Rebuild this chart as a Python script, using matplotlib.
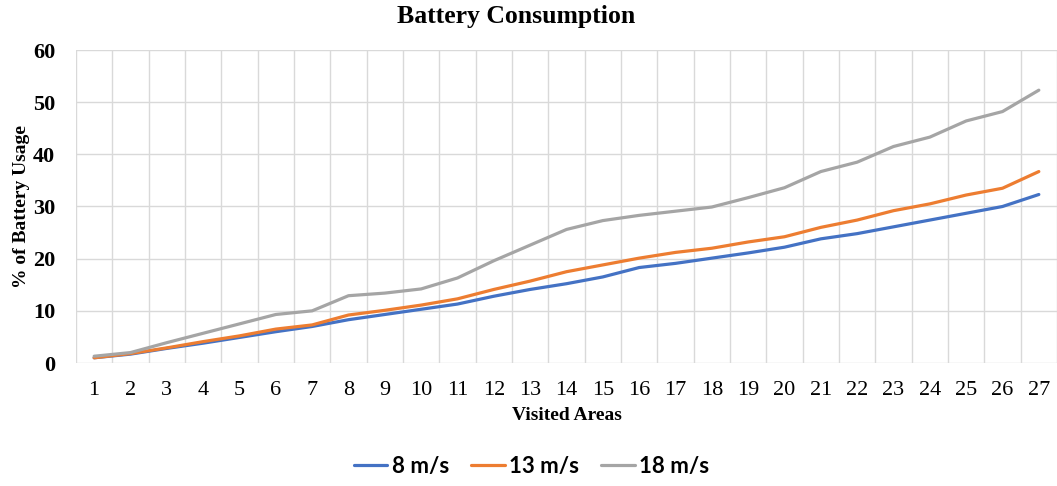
import matplotlib
matplotlib.use("Agg")
import matplotlib.pyplot as plt
import numpy as np

areas = list(range(1, 28))
s8 = [1.0, 1.7, 2.8, 3.8, 4.9, 6.0, 7.0, 8.3, 9.3, 10.3, 11.3, 12.8, 14.1, 15.2, 16.5,
      18.3, 19.1, 20.1, 21.1, 22.2, 23.8, 24.8, 26.1, 27.4, 28.7, 30.0, 32.3]
s13 = [1.0, 1.8, 2.9, 4.1, 5.2, 6.5, 7.3, 9.2, 10.1, 11.1, 12.3, 14.1, 15.7, 17.5, 18.8,
       20.1, 21.2, 22.0, 23.2, 24.2, 26.0, 27.4, 29.2, 30.5, 32.2, 33.5, 36.7]
s18 = [1.3, 2.0, 3.9, 5.7, 7.5, 9.3, 10.0, 12.9, 13.4, 14.2, 16.3, 19.6, 22.6, 25.6, 27.3,
       28.3, 29.1, 29.9, 31.7, 33.6, 36.7, 38.5, 41.5, 43.3, 46.4, 48.2, 52.3]
series_labels = ["8 m/s", "13 m/s", "18 m/s"]
colors = ["#4472C4", "#ED7D31", "#A5A5A5"]
yticks = [0, 10, 20, 30, 40, 50, 60]

W, H = 1057, 486
fig = plt.figure(figsize=(W / 100, H / 100), dpi=100)
ax = fig.add_axes([76 / W, 1 - 363 / H, (1057 - 76) / W, (363 - 50) / H])

for vals, lab, c in zip([s8, s13, s18], series_labels, colors):
    ax.plot(areas, vals, color=c, lw=2.3, label=lab, solid_capstyle="round", zorder=3)

ax.set_xlim(0.5, 27.5)
ax.set_ylim(0, 60)
ax.set_yticks(yticks)
ax.set_xticks(areas)
ax.grid(False)
grid_c = "#d9d9d9"
for y in yticks:
    ax.axhline(y, color=grid_c, lw=1.0, zorder=1)
for x in np.arange(0.5, 28, 1):
    ax.axvline(x, color=grid_c, lw=1.0, zorder=1)
for s in ax.spines.values():
    s.set_visible(False)
ax.tick_params(axis="both", which="both", length=0)
ax.tick_params(axis="x", pad=13)
ax.tick_params(axis="y", pad=15)

serif = "Liberation Serif"
for t in ax.get_xticklabels():
    t.set_fontfamily(serif)
    t.set_fontsize(16)
for t in ax.get_yticklabels():
    t.set_fontfamily(serif)
    t.set_fontsize(16)
    t.set_fontweight("bold")

ax.set_xlabel("Visited Areas", fontfamily=serif, fontweight="bold", fontsize=14, labelpad=5)
ax.set_ylabel("% of Battery Usage", fontfamily=serif, fontweight="bold", fontsize=14, labelpad=2)
fig.text(0.488, 1 - 16 / H, "Battery Consumption", ha="center", va="center",
         fontfamily=serif, fontweight="bold", fontsize=18.5)

leg = fig.legend(loc="center", bbox_to_anchor=(0.503, 1 - 466 / H), ncol=3, frameon=False,
                 prop={"family": "Lato", "weight": "bold", "size": 16},
                 handlelength=1.5, handletextpad=0.2, columnspacing=1.0)

fig.savefig("out.png", dpi=100)
